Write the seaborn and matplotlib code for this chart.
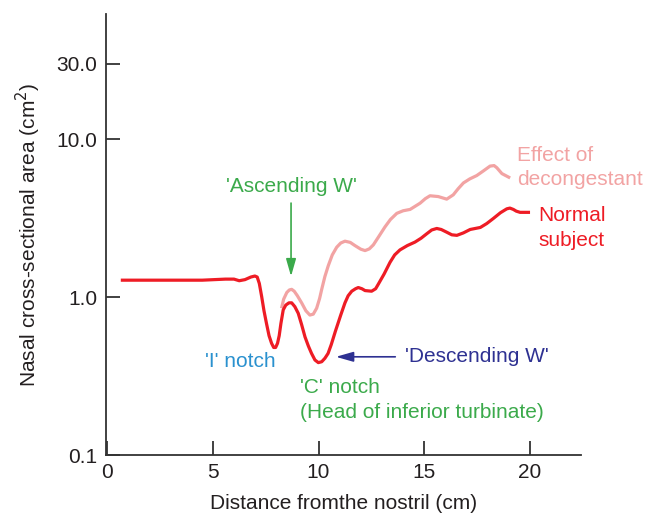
import matplotlib
matplotlib.use("Agg")
import matplotlib.pyplot as plt
import seaborn as sns
import pandas as pd

# Normal subject (red)
normal_x = [0.65, 4.5, 5.6, 6.0, 6.25, 6.52, 6.8, 6.99, 7.1, 7.2, 7.31, 7.42, 7.54, 7.66, 7.78,
            7.88, 7.97, 8.06, 8.14, 8.22, 8.33, 8.45, 8.6, 8.73, 8.88, 9.04, 9.2, 9.36, 9.52,
            9.67, 9.83, 9.99, 10.15, 10.3, 10.45, 10.6, 10.8, 11.05, 11.25, 11.4, 11.57, 11.75,
            11.88, 12.05, 12.2, 12.51, 12.7, 12.83, 13.1, 13.38, 13.6, 13.85, 14.2, 14.56, 14.85,
            15.12, 15.35, 15.59, 15.8, 16.05, 16.3, 16.54, 16.85, 17.17, 17.65, 17.95, 18.27,
            18.6, 18.9, 19.05, 19.21, 19.35, 19.53, 20.0]
normal_y = [1.28, 1.28, 1.30, 1.30, 1.27, 1.29, 1.34, 1.36, 1.34, 1.22, 1.01, 0.82, 0.68, 0.57, 0.51,
            0.48, 0.48, 0.51, 0.57, 0.68, 0.83, 0.89, 0.92, 0.92, 0.87, 0.79, 0.67, 0.56, 0.49,
            0.44, 0.40, 0.385, 0.39, 0.41, 0.44, 0.50, 0.61, 0.77, 0.92, 1.02, 1.09, 1.13,
            1.15, 1.13, 1.10, 1.09, 1.13, 1.21, 1.40, 1.66, 1.85, 1.99, 2.12, 2.23, 2.36,
            2.52, 2.66, 2.72, 2.68, 2.58, 2.48, 2.46, 2.55, 2.68, 2.76, 2.92, 3.15,
            3.42, 3.62, 3.66, 3.59, 3.50, 3.44, 3.44]

# Effect of decongestant (pink)
decon_x = [8.25, 8.35, 8.5, 8.62, 8.73, 8.85, 9.0, 9.2, 9.4, 9.59, 9.75, 9.91, 10.05, 10.15,
           10.3, 10.46, 10.65, 10.86, 11.05, 11.25, 11.5, 11.72, 12.0, 12.2, 12.4, 12.59, 12.85,
           13.14, 13.4, 13.7, 14.0, 14.33, 14.8, 15.05, 15.27, 15.66, 16.06, 16.37, 16.6, 16.85,
           17.15, 17.48, 17.8, 18.11, 18.3, 18.43, 18.67, 19.06]
decon_y = [0.85, 0.97, 1.07, 1.11, 1.12, 1.09, 1.02, 0.92, 0.82, 0.77, 0.78, 0.85, 0.98, 1.12,
           1.35, 1.58, 1.85, 2.07, 2.20, 2.26, 2.22, 2.12, 2.01, 1.97, 2.02, 2.14, 2.42,
           2.78, 3.10, 3.39, 3.52, 3.59, 3.93, 4.20, 4.38, 4.33, 4.17, 4.44, 4.85, 5.28,
           5.60, 5.88, 6.30, 6.75, 6.80, 6.59, 6.05, 5.68]

x_ticks = [0, 5, 10, 15, 20]
y_ticks = [0.1, 1.0, 10.0, 30.0]
y_tick_labels = ["0.1", "1.0", "10.0", "30.0"]

RED = "#EE1C25"
PINK = "#F2A3A3"
GREEN = "#3BAA4B"
BLUE = "#2A91CF"
NAVY = "#2E3192"
AXC = "#333333"
TXT = "#231F20"
FS = 15

sns.set_style("ticks")
plt.rcParams["font.family"] = ["Liberation Sans", "DejaVu Sans"]
plt.rcParams["font.size"] = FS

fig = plt.figure(figsize=(6.57, 5.16), dpi=100)
ax = fig.add_axes([0.161, 0.118, 0.723, 0.855])

df_n = pd.DataFrame({"x": normal_x, "y": normal_y})
df_d = pd.DataFrame({"x": decon_x, "y": decon_y})
sns.lineplot(data=df_d, x="x", y="y", ax=ax, color=PINK, linewidth=2.3, sort=False, estimator=None,
             solid_joinstyle="round", solid_capstyle="butt")
sns.lineplot(data=df_n, x="x", y="y", ax=ax, color=RED, linewidth=2.3, sort=False, estimator=None,
             solid_joinstyle="round", solid_capstyle="butt")

ax.set_yscale("log")
ax.set_ylim(0.1, 62)
ax.set_xlim(-0.06, 22.4)
ax.set_yticks(y_ticks)
ax.set_yticklabels(y_tick_labels)
ax.minorticks_off()
ax.set_xticks(x_ticks)
ax.set_xticklabels([str(v) for v in x_ticks])

for s in ["top", "right"]:
    ax.spines[s].set_visible(False)
for s in ["left", "bottom"]:
    ax.spines[s].set_color(AXC)
    ax.spines[s].set_linewidth(1.3)
ax.tick_params(axis="both", direction="in", length=10, width=1.3, color=AXC,
               labelsize=FS, labelcolor=TXT)
ax.tick_params(axis="y", pad=6)
ax.tick_params(axis="x", pad=6)

ax.set_xlabel("Distance fromthe nostril (cm)", fontsize=FS, color=TXT, labelpad=8)
ax.set_ylabel("Nasal cross-sectional area (cm$^2$)", fontsize=FS, color=TXT, labelpad=10)

# annotations
ax.annotate("", xy=(8.7, 1.30), xytext=(8.7, 4.1),
            arrowprops=dict(arrowstyle="-|>,head_length=0.7,head_width=0.2", color=GREEN, lw=1.2))
ax.text(8.7, 5.0, "'Ascending W'", color=GREEN, ha="center", va="center", fontsize=FS)
ax.text(6.29, 0.389, "'I' notch", color=BLUE, ha="center", va="center", fontsize=FS)
ax.text(9.12, 0.269, "'C' notch", color=GREEN, ha="left", va="center", fontsize=FS)
ax.text(9.12, 0.186, "(Head of inferior turbinate)", color=GREEN, ha="left", va="center", fontsize=FS)
ax.annotate("", xy=(10.69, 0.419), xytext=(13.76, 0.419),
            arrowprops=dict(arrowstyle="-|>,head_length=0.7,head_width=0.2", color=NAVY, lw=1.2))
ax.text(14.1, 0.419, "'Descending W'", color=NAVY, ha="left", va="center", fontsize=FS)
ax.text(19.39, 7.9, "Effect of", color=PINK, ha="left", va="center", fontsize=FS)
ax.text(19.39, 5.54, "decongestant", color=PINK, ha="left", va="center", fontsize=FS)
ax.text(20.38, 3.30, "Normal", color=RED, ha="left", va="center", fontsize=FS)
ax.text(20.38, 2.29, "subject", color=RED, ha="left", va="center", fontsize=FS)

fig.savefig("out.png", dpi=100)
